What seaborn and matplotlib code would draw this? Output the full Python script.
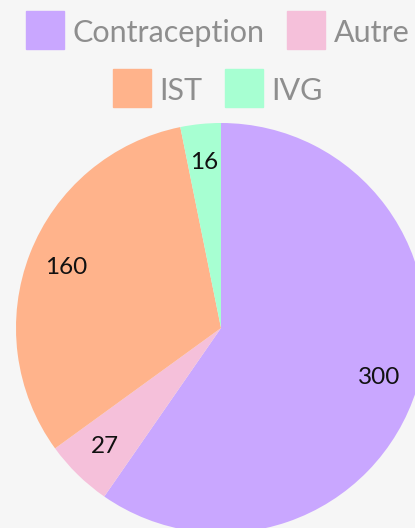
import matplotlib
matplotlib.use("Agg")
import matplotlib.pyplot as plt
from matplotlib.lines import Line2D
import seaborn as sns

categories = ["Contraception", "Autre", "IST", "IVG"]
values = [300, 27, 160, 16]
colors = ["#c9a7ff", "#f5c0da", "#ffb38b", "#a7ffd2"]

sns.set_theme(style="white")
plt.rcParams["font.family"] = ["Lato", "DejaVu Sans"]
palette = sns.color_palette(colors)

W, H = 415, 528
fig = plt.figure(figsize=(W / 100, H / 100), dpi=100)
fig.patch.set_facecolor("#f6f6f6")

cx, cy, r = 221, 328, 205
ax = fig.add_axes([(cx - r) / W, (H - cy - r) / H, 2 * r / W, 2 * r / H])
ax.set_facecolor("#f6f6f6")

wedges, texts, autotexts = ax.pie(
    values, colors=palette, startangle=90, counterclock=False,
    autopct=lambda p: f"{round(p * sum(values) / 100):d}",
    pctdistance=0.81, radius=1.0,
    wedgeprops=dict(linewidth=0),
    textprops=dict(color="#111111", fontsize=17.5),
)
ax.set_xlim(-1, 1)
ax.set_ylim(-1, 1)
ax.set_aspect("equal")
ax.axis("off")

handles = [Line2D([], [], marker="s", linestyle="", markersize=27.5,
                  markerfacecolor=c, markeredgecolor=c) for c in palette]

common = dict(frameon=False, fontsize=22, handlelength=1.2, handleheight=1.0,
              handletextpad=0.3, columnspacing=0.75, borderaxespad=0, borderpad=0,
              ncol=2, labelcolor="#8e8e8e", loc="center")
leg1 = fig.legend(handles[:2], categories[:2], bbox_to_anchor=(218 / W, 1 - 32 / H), **common)
leg2 = fig.legend(handles[2:], categories[2:], bbox_to_anchor=(218 / W, 1 - 90 / H), **common)

fig.savefig("out.png", dpi=100, facecolor=fig.get_facecolor())
